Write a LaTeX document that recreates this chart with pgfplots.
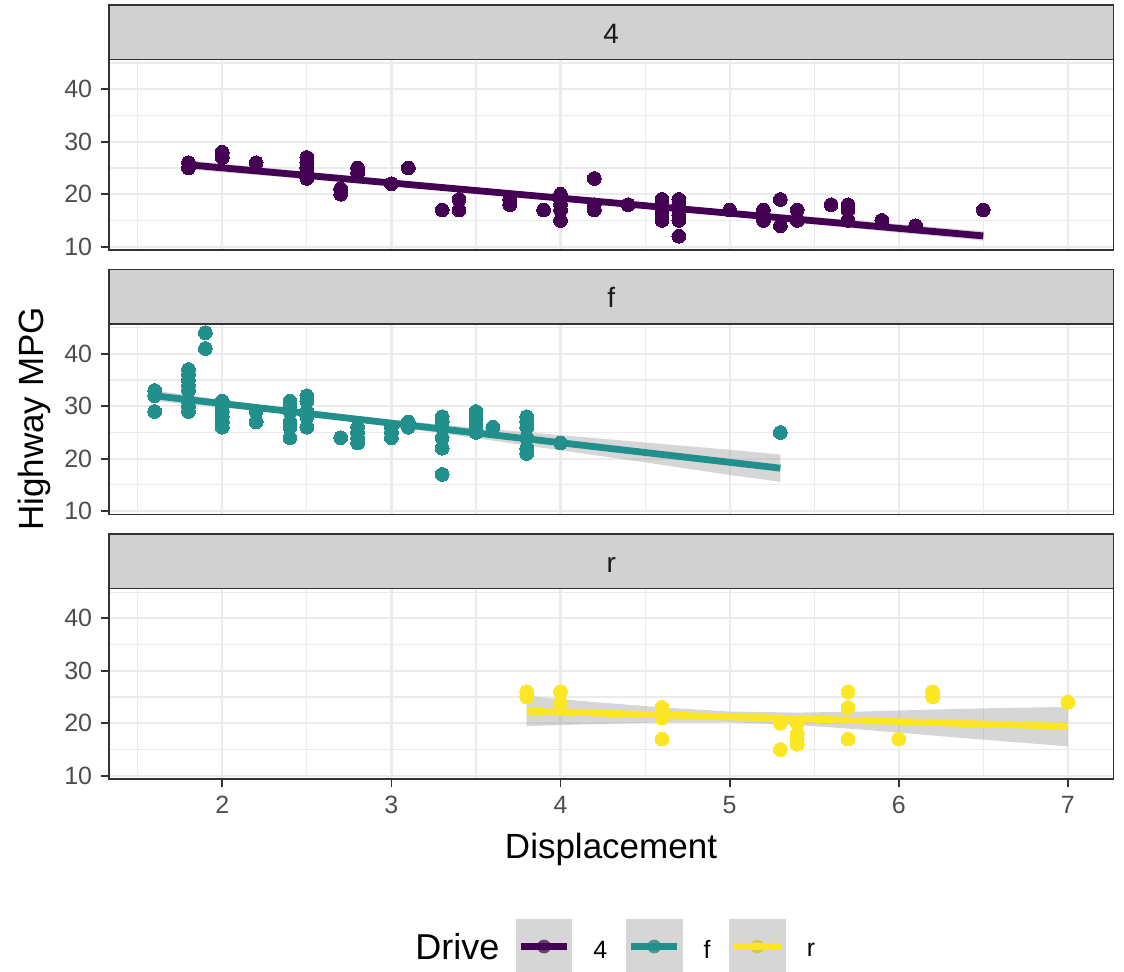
\documentclass[border=0pt]{standalone}
\usepackage{pgfplots}
\pgfplotsset{compat=1.18}
\usepackage{fontspec}
\setmainfont{Liberation Sans}
\definecolor{c4}{HTML}{440154}
\definecolor{cf}{HTML}{21908C}
\definecolor{cr}{HTML}{FDE725}
\definecolor{grey92}{HTML}{EBEBEB}
\definecolor{grey20}{HTML}{333333}
\definecolor{grey30}{HTML}{4D4D4D}
\definecolor{grey10}{HTML}{1A1A1A}
\definecolor{stripgray}{HTML}{D1D1D1}
\definecolor{keygray}{HTML}{D4D4D4}
\pgfplotsset{
  panel/.style={
    scale only axis, width=502.25pt, height=95.25pt,
    anchor=south west,
    xmin=1.33, xmax=7.27, ymin=9.37, ymax=45.68,
    xtick={2,3,4,5,6,7}, minor xtick={1.5,2.5,3.5,4.5,5.5,6.5},
    ytick={10,20,30,40}, minor ytick={15,25,35,45},
    grid=both,
    major grid style={color=grey92, line width=1.1pt},
    minor grid style={color=grey92, line width=0.55pt},
    axis line style={grey20, line width=0.9pt},
    tick align=outside, tick pos=left,
    major tick length=4.25pt, minor tick length=0pt,
    tick style={grey20, line width=0.9pt},
    /pgf/number format/assume math mode=true,
    tick label style={font=\fontsize{12.5}{15}\selectfont, text=grey30},
    yticklabel style={inner sep=0pt, xshift=-4pt},
    xticklabel style={inner sep=0pt, yshift=-4pt},
    clip=false,
  },
  pts/.style={only marks, mark=*, mark size=3.45pt, mark options={draw=#1, fill=#1, line width=0pt}},
  band/.style={fill=black!40, fill opacity=0.4, draw=none},
  fitline/.style={#1, line width=3.4pt},
  drvkey/.style={legend image code/.code={
      \path[fill=white, draw=none] (0pt,-7.35pt) rectangle (28.3pt,20.15pt);
      \path[fill, draw=none] (14.15pt,6.4pt) circle (3.45pt);
      \path[fill=black!40, fill opacity=0.4, draw=none] (0pt,-7.35pt) rectangle (28.3pt,20.15pt);
      \draw (2.6pt,6.4pt) -- (25.7pt,6.4pt);
  }},
}
\begin{document}
\begin{tikzpicture}
\useasboundingbox (0,0) rectangle (562pt,486pt);
% ---------- panel 4 ----------
\begin{axis}[panel, at={(54.5pt,361pt)}, name=p1, xticklabels={}, x tick style={draw=none}]
\addplot[pts=c4] coordinates {(1.8,25)(1.8,26)(2.0,27)(2.0,28)(2.2,26)(2.5,23)(2.5,24)(2.5,25)(2.5,26)(2.5,27)(2.7,20)(2.7,21)(2.8,24)(2.8,25)(3.0,22)(3.1,25)(3.3,17)(3.4,17)(3.4,19)(3.7,18)(3.7,19)(3.9,17)(4.0,15)(4.0,17)(4.0,18)(4.0,19)(4.0,20)(4.2,17)(4.2,18)(4.2,23)(4.4,18)(4.6,15)(4.6,16)(4.6,17)(4.6,18)(4.6,19)(4.7,12)(4.7,15)(4.7,16)(4.7,17)(4.7,18)(4.7,19)(5.0,17)(5.2,15)(5.2,16)(5.2,17)(5.3,14)(5.3,19)(5.4,15)(5.4,17)(5.6,18)(5.7,15)(5.7,17)(5.7,18)(5.9,15)(6.1,14)(6.5,17)};
\addplot[band] coordinates {(1.8,24.73)(2.5,22.88)(3.0,21.55)(3.5,20.17)(4.0,18.76)(4.5,17.29)(5.0,15.79)(5.5,14.24)(6.0,12.67)(6.5,11.15)(6.5,12.95)(6.0,14.31)(5.5,15.64)(5.0,16.97)(4.5,18.35)(4.0,19.76)(3.5,21.23)(3.0,22.73)(2.5,24.28)(1.8,26.47)};
\addplot[fitline=c4] coordinates {(1.8,25.6)(6.5,12.05)};
\end{axis}
% ---------- panel f ----------
\begin{axis}[panel, at={(54.5pt,228.75pt)}, name=p2, xticklabels={}, x tick style={draw=none}]
\addplot[pts=cf] coordinates {(1.6,29)(1.6,32)(1.6,33)(1.8,29)(1.8,30)(1.8,31)(1.8,33)(1.8,34)(1.8,35)(1.8,36)(1.8,37)(1.9,41)(1.9,44)(2.0,26)(2.0,27)(2.0,28)(2.0,29)(2.0,30)(2.0,31)(2.2,27)(2.2,29)(2.4,24)(2.4,26)(2.4,27)(2.4,29)(2.4,30)(2.4,31)(2.5,26)(2.5,28)(2.5,29)(2.5,31)(2.5,32)(2.7,24)(2.8,23)(2.8,24)(2.8,25)(2.8,26)(3.0,24)(3.0,25)(3.0,26)(3.1,26)(3.1,27)(3.3,17)(3.3,22)(3.3,24)(3.3,26)(3.3,27)(3.3,28)(3.5,25)(3.5,26)(3.5,27)(3.5,28)(3.5,29)(3.6,26)(3.8,21)(3.8,22)(3.8,24)(3.8,26)(3.8,27)(3.8,28)(4.0,23)(5.3,25)};
\addplot[band] coordinates {(1.6,31.0)(2.0,29.8)(2.5,28.2)(3.0,26.2)(3.5,23.9)(4.0,21.6)(4.5,19.3)(5.0,16.9)(5.3,15.6)(5.3,20.8)(5.0,21.7)(4.5,23.1)(4.0,24.5)(3.5,25.9)(3.0,27.4)(2.5,29.1)(2.0,31.2)(1.6,33.0)};
\addplot[fitline=cf] coordinates {(1.6,32.0)(5.3,18.2)};
\end{axis}
% ---------- panel r ----------
\begin{axis}[panel, at={(54.5pt,96.5pt)}, name=p3,
  legend style={at={(axis description cs:0.4049,-0.8793)}, anchor=west, draw=none, fill=none,
    inner sep=0pt, outer sep=0pt, legend columns=-1,
    nodes={inner sep=0pt}, text=black,
    /tikz/every even column/.append style={column sep=9.35pt},
    /tikz/every odd column/.append style={column sep=10.5pt}},
  legend cell align=left]
\addplot[pts=cr, forget plot] coordinates {(3.8,25)(3.8,26)(4.0,24)(4.0,26)(4.6,21)(4.6,22)(4.6,23)(4.6,17)(5.3,20)(5.3,15)(5.4,20)(5.4,16)(5.4,17)(5.4,18)(5.7,26)(5.7,23)(5.7,17)(6.0,17)(6.2,25)(6.2,26)(7.0,24)};
\addplot[band, forget plot] coordinates {(3.8,19.45)(4.2,19.84)(4.6,20.15)(5.0,20.19)(5.4,19.68)(5.8,18.74)(6.2,17.66)(6.6,16.6)(7.0,15.6)(7.0,23.1)(6.6,22.9)(6.2,22.6)(5.8,22.24)(5.4,22.02)(5.0,22.23)(4.6,23.01)(4.2,24.04)(3.8,25.15)};
\addplot[fitline=cr, forget plot] coordinates {(3.8,22.3)(7.0,19.4)};
\addlegendimage{c4, line width=3.4pt, drvkey}
\addlegendentry[yshift=4.1pt]{\fontsize{12.5}{15}\selectfont 4}
\addlegendimage{cf, line width=3.4pt, drvkey}
\addlegendentry[yshift=4.1pt]{\fontsize{12.5}{15}\selectfont f}
\addlegendimage{cr, line width=3.4pt, drvkey}
\addlegendentry[yshift=4.1pt]{\fontsize{12.5}{15}\selectfont r}
\end{axis}
% ---------- strips ----------
\foreach \p/\t in {p1/4, p2/f, p3/r}{
  \draw[grey20, line width=0.9pt, fill=stripgray] (\p.north west) rectangle ([yshift=27.25pt]\p.north east);
  \node[anchor=base, text=grey10, font=\fontsize{14}{16}\selectfont, inner sep=0pt] at ([yshift=8.1pt]\p.north) {\t};
}
% ---------- titles ----------
\node[anchor=base, font=\fontsize{17.5}{21}\selectfont, inner sep=0pt] at (305.5pt,56.5pt) {Displacement};
\node[anchor=base, rotate=90, font=\fontsize{17.5}{21}\selectfont, inner sep=0pt] at (21.5pt,276.5pt) {Highway MPG};
\node[anchor=base west, font=\fontsize{18}{21}\selectfont, inner sep=0pt] at (207.5pt,6.35pt) {Drive};
\end{tikzpicture}
\end{document}
